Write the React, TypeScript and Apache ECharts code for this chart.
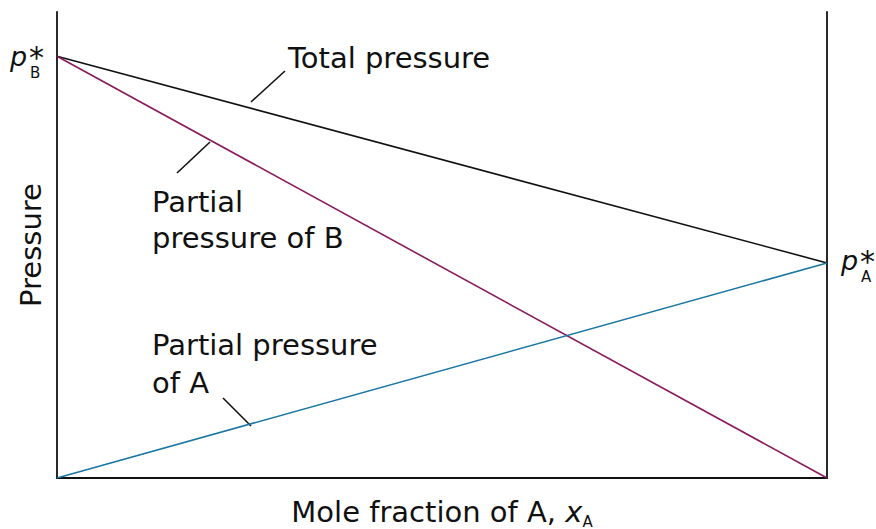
import React, { useEffect, useRef } from "react";
import * as echarts from "echarts";

// Mole fraction of A
const xA = [0, 1];
// Pressures (relative, p*_B = 100)
const pTotal = [100, 51];
const pPartialB = [100, 0];
const pPartialA = [0, 51];
const yMax = 110.5;

const FONT = "DejaVu Sans";
const FS = 29;
const PURPLE = "#8a1a5b";
const BLUE = "#1a76a2";

const pairs = (ys: number[]) => xA.map((x, i) => [x, ys[i]]);

function starLabel(x: number, baseline: number, sub: string) {
  return {
    type: "group",
    children: [
      {
        type: "text",
        x,
        y: baseline - 9.4,
        style: {
          text: "p",
          fontSize: 27,
          fontStyle: "italic",
          fontFamily: FONT,
          fill: "#111",
          verticalAlign: "middle",
          align: "left",
        },
      },
      {
        type: "text",
        x: x + 19,
        y: baseline - 9,
        style: {
          text: "*",
          fontSize: 30,
          lineHeight: 16,
          fontFamily: FONT,
          fill: "#111",
          verticalAlign: "middle",
          align: "left",
        },
      },
      {
        type: "text",
        x: x + 20,
        y: baseline + 12 - 5.2,
        style: {
          text: sub,
          fontSize: 15,
          lineHeight: 12,
          fontFamily: FONT,
          fill: "#111",
          verticalAlign: "middle",
          align: "left",
        },
      },
    ],
  };
}

function label(text: string, x: number, baseline: number) {
  return {
    type: "text",
    x,
    y: baseline - 10,
    style: {
      text,
      fontSize: FS,
      fontFamily: FONT,
      fill: "#111",
      verticalAlign: "middle",
      align: "left",
    },
  };
}

function leader(x1: number, y1: number, x2: number, y2: number) {
  return {
    type: "line",
    shape: { x1, y1, x2, y2 },
    style: { stroke: "#111", lineWidth: 1.6 },
  };
}

export default function App() {
  const ref = useRef<HTMLDivElement>(null);
  useEffect(() => {
    document.body.style.margin = "0";
    if (!ref.current) return;
    const chart = echarts.init(ref.current, undefined, { renderer: "svg" });
    const axisLine = { show: true, onZero: false, lineStyle: { color: "#111", width: 1.8 } };
    chart.setOption({
      animation: false,
      backgroundColor: "#ffffff",
      grid: { left: 57, right: 49, top: 12, bottom: 51, outerBoundsMode: "none", containLabel: false },
      xAxis: {
        type: "value",
        min: 0,
        max: 1,
        axisLine,
        axisTick: { show: false },
        axisLabel: { show: false },
        splitLine: { show: false },
        name: "{t|Mole fraction of A, }{x|x}{s|A}",
        nameLocation: "middle",
        nameGap: 19,
        nameTextStyle: {
          rich: {
            t: { fontSize: FS, fontFamily: FONT, color: "#111", lineHeight: FS, verticalAlign: "top" },
            x: { fontSize: FS, fontFamily: FONT, fontStyle: "italic", color: "#111", lineHeight: FS, verticalAlign: "top" },
            s: { fontSize: 15, fontFamily: FONT, color: "#111", lineHeight: 11, padding: [17, 0, 0, 0], verticalAlign: "top" },
          },
        },
      },
      yAxis: [
        {
          type: "value",
          min: 0,
          max: yMax,
          position: "left",
          axisLine,
          axisTick: { show: false },
          axisLabel: { show: false },
          splitLine: { show: false },
          name: "Pressure",
          nameLocation: "middle",
          nameRotate: 90,
          nameGap: 12,
          nameTextStyle: { fontSize: FS, fontFamily: FONT, color: "#111" },
        },
        {
          type: "value",
          min: 0,
          max: yMax,
          position: "right",
          axisLine,
          axisTick: { show: false },
          axisLabel: { show: false },
          splitLine: { show: false },
        },
      ],
      series: [
        {
          type: "line",
          name: "Total pressure",
          data: pairs(pTotal),
          symbol: "none",
          lineStyle: { color: "#111", width: 1.6 },
        },
        {
          type: "line",
          name: "Partial pressure of B",
          data: pairs(pPartialB),
          symbol: "none",
          lineStyle: { color: PURPLE, width: 1.6 },
        },
        {
          type: "line",
          name: "Partial pressure of A",
          data: pairs(pPartialA),
          symbol: "none",
          lineStyle: { color: BLUE, width: 1.6 },
        },
      ],
      graphic: [
        starLabel(10, 66, "B"),
        starLabel(841, 270, "A"),
        label("Total pressure", 288, 67.5),
        label("Partial", 152, 211.7),
        label("pressure of B", 152, 248.3),
        label("Partial pressure", 152, 355),
        label("of A", 152, 392.7),
        leader(251, 102, 285, 71),
        leader(177, 173, 210, 142),
        leader(223, 398, 251, 426),
      ],
    });
    return () => chart.dispose();
  }, []);
  return <div ref={ref} style={{ width: 876, height: 529 }} />;
}
